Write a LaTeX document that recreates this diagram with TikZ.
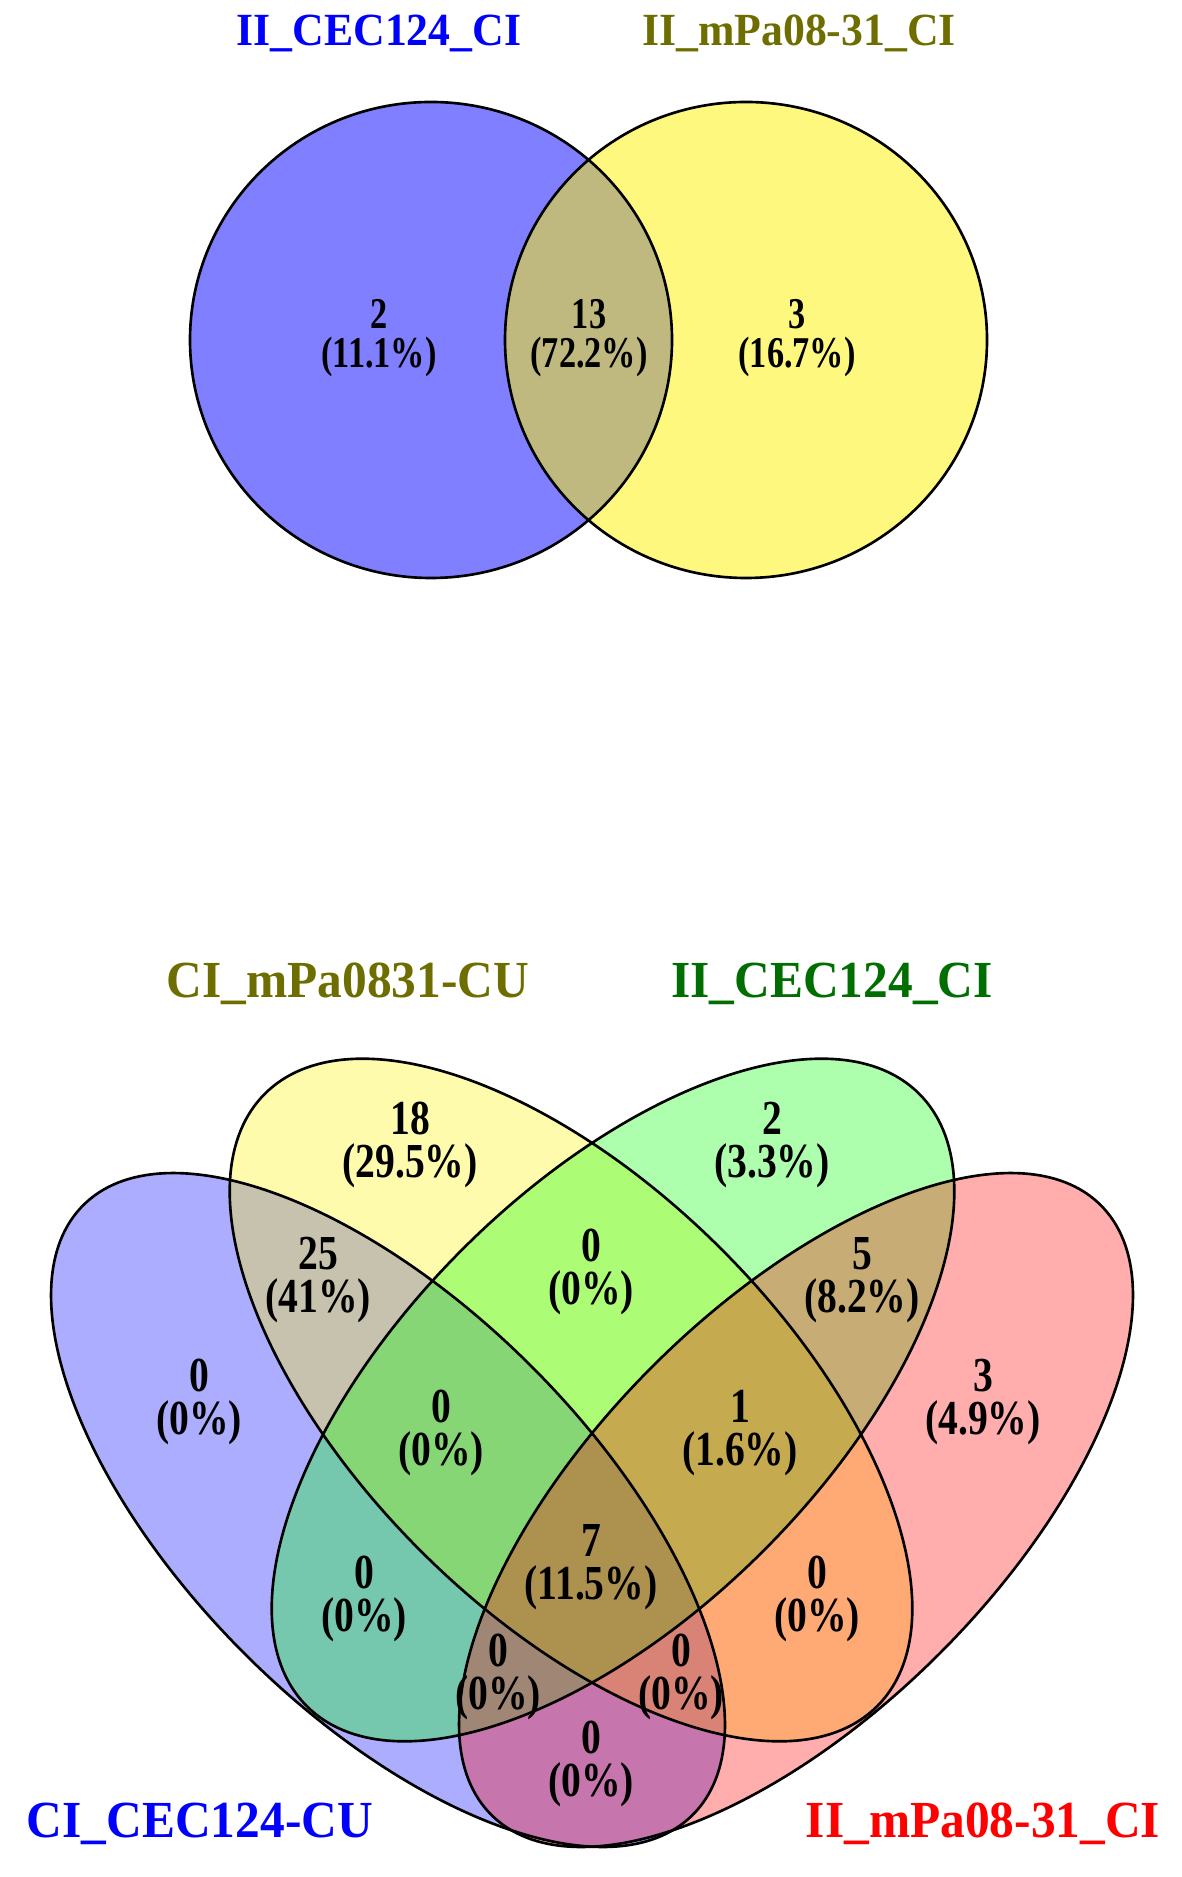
\documentclass[tikz,border=0pt]{standalone}
\usepackage{fontspec}
\setmainfont{Liberation Serif}
\definecolor{labolive}{RGB}{110,110,0}
\definecolor{labgreen}{RGB}{0,110,0}
\tikzset{
  setline/.style={draw=black, line width=0.75pt},
  twofill/.style={fill opacity=0.5},
  fourfill/.style={fill opacity=0.32},
  smallcnt/.style={font=\bfseries\fontsize{12.5}{11.2}\selectfont, align=center, xscale=0.78, inner sep=0pt},
  cnt/.style={font=\bfseries\fontsize{13.9}{12.2}\selectfont, align=center, xscale=0.81, inner sep=0pt},
  toplab/.style={font=\bfseries\fontsize{13.1}{14}\selectfont, xscale=0.95, anchor=base, inner sep=0pt},
  botlab/.style={font=\bfseries\fontsize{14.8}{15}\selectfont, xscale=0.95, anchor=base, inner sep=0pt},
}
\begin{document}
\begin{tikzpicture}[x=0.01cm, y=-0.01cm]
  \useasboundingbox (0,0) rectangle (1181,1877);

  % two sets
  \fill[blue, twofill] (431,340) ellipse [x radius=241, y radius=238];
  \fill[yellow, twofill] (746,340) ellipse [x radius=241, y radius=238];
  \draw[setline] (431,340) ellipse [x radius=241, y radius=238];
  \draw[setline] (746,340) ellipse [x radius=241, y radius=238];

  \node[toplab, text=blue] (tA) at (379,46) {II\_CEC124\_CI};
  \node[toplab, text=labolive] (tB) at (799,46) {II\_mPa08-31\_CI};

  \node[smallcnt] (tA0) at (379,338) {2\\(11.1\%)};
  \node[smallcnt] (tAB) at (589,338) {13\\(72.2\%)};
  \node[smallcnt] (tB0) at (797,338) {3\\(16.7\%)};

  % four sets
  \fill[blue, fourfill, rotate around={-45:(388,1510)}] (388,1510) ellipse [x radius=431, y radius=203];
  \fill[yellow, fourfill, rotate around={-45:(571,1400)}] (571,1400) ellipse [x radius=433, y radius=213];
  \fill[green, fourfill, rotate around={45:(613,1400)}] (613,1400) ellipse [x radius=433, y radius=213];
  \fill[red, fourfill, rotate around={45:(796,1510)}] (796,1510) ellipse [x radius=431, y radius=203];
  \draw[setline, rotate around={-45:(388,1510)}] (388,1510) ellipse [x radius=431, y radius=203];
  \draw[setline, rotate around={-45:(571,1400)}] (571,1400) ellipse [x radius=433, y radius=213];
  \draw[setline, rotate around={45:(613,1400)}] (613,1400) ellipse [x radius=433, y radius=213];
  \draw[setline, rotate around={45:(796,1510)}] (796,1510) ellipse [x radius=431, y radius=203];

  \node[botlab, text=labolive] (lY) at (348,997) {CI\_mPa0831-CU};
  \node[botlab, text=labgreen] (lG) at (832,997) {II\_CEC124\_CI};
  \node[botlab, text=blue] (lB) at (200,1837) {CI\_CEC124-CU};
  \node[botlab, text=red] (lR) at (983,1837) {II\_mPa08-31\_CI};

  \node[cnt] (rY) at (410,1145) {18\\(29.5\%)};
  \node[cnt] (rG) at (772,1145) {2\\(3.3\%)};
  \node[cnt] (rBY) at (318,1280) {25\\(41\%)};
  \node[cnt] (rYG) at (591,1272) {0\\(0\%)};
  \node[cnt] (rGR) at (862,1280) {5\\(8.2\%)};
  \node[cnt] (rB) at (199,1402) {0\\(0\%)};
  \node[cnt] (rBYG) at (441,1433) {0\\(0\%)};
  \node[cnt] (rYGR) at (740,1433) {1\\(1.6\%)};
  \node[cnt] (rR) at (983,1402) {3\\(4.9\%)};
  \node[cnt] (rBG) at (364,1599) {0\\(0\%)};
  \node[cnt] (rAll) at (591,1567) {7\\(11.5\%)};
  \node[cnt] (rYR) at (817,1599) {0\\(0\%)};
  \node[cnt] (rBGR) at (498,1677) {0\\(0\%)};
  \node[cnt] (rBYR) at (681,1677) {0\\(0\%)};
  \node[cnt] (rBR) at (591,1764) {0\\(0\%)};
\end{tikzpicture}
\end{document}
